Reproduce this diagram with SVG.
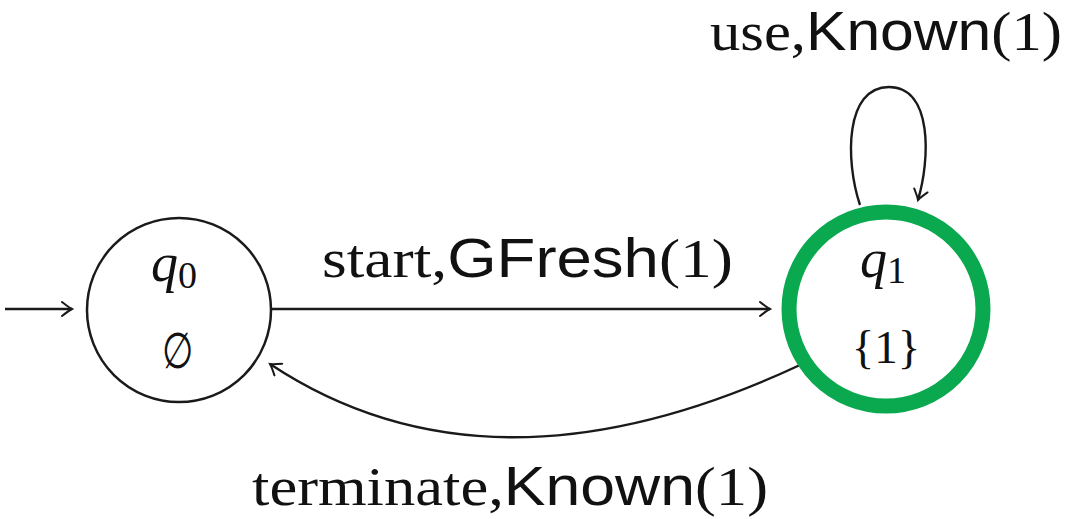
<svg xmlns="http://www.w3.org/2000/svg" width="1065" height="519" viewBox="0 0 1065 519">
  <style>
    .edge { fill: none; stroke: #1a1a1a; stroke-width: 2.4; marker-end: url(#to); }
    .state { fill: #ffffff; stroke: #1a1a1a; stroke-width: 2.5; }
    .accept { fill: #ffffff; stroke: #0aa84f; stroke-width: 15; }
    .lbl { font-size: 55px; fill: #111; }
    .rm { font-family: "Liberation Serif", "DejaVu Serif", serif; }
    .sf { font-family: "Liberation Sans", "DejaVu Sans", sans-serif; }
    .it { font-family: "Liberation Serif", "DejaVu Serif", serif; font-style: italic; fill: #111; }
    .sub { font-family: "Liberation Serif", "DejaVu Serif", serif; font-style: normal; fill: #111; }
  </style>
  <defs>
    <marker id="to" markerWidth="16" markerHeight="16" refX="0" refY="0" viewBox="-12 -8 14 16" orient="auto" markerUnits="userSpaceOnUse">
      <path d="M -10 -7 Q -3 -1.5 0 0 Q -3 1.5 -10 7" fill="none" stroke="#1a1a1a" stroke-width="2" stroke-linecap="round"/>
    </marker>
  </defs>

  <rect width="1065" height="519" fill="#ffffff"/>

  <g id="connectors">
    <path class="edge" d="M 5 309 L 72 309"/>
    <path class="edge" d="M 272 309 L 770 309"/>
    <path class="edge" d="M 860 205 C 845 160, 845 87, 889 87 C 933 87, 930 160, 918 200"/>
    <path class="edge" d="M 800 365 Q 490 510 270 364"/>
  </g>

  <g id="q0">
    <circle class="state" cx="179" cy="310" r="92"/>
    <text x="151" y="281" class="it" font-size="54">q<tspan class="sub" font-size="38" dy="7">0</tspan></text>
    <text class="sub" font-size="50" text-anchor="middle" transform="translate(178 368) scale(0.72 1)">∅</text>
  </g>

  <g id="q1">
    <circle class="accept" cx="886" cy="309" r="97"/>
    <text x="860" y="277" class="it" font-size="54">q<tspan class="sub" font-size="38" dy="6">1</tspan></text>
    <text x="886" y="363" class="sub" font-size="47" text-anchor="middle">{1}</text>
  </g>

  <g id="labels">
    <text x="322" y="277" class="lbl" textLength="411" lengthAdjust="spacingAndGlyphs"><tspan class="rm">start,</tspan><tspan class="sf">GFresh</tspan><tspan class="rm">(1)</tspan></text>
    <text x="710" y="50" class="lbl" textLength="352" lengthAdjust="spacingAndGlyphs"><tspan class="rm">use,</tspan><tspan class="sf">Known</tspan><tspan class="rm">(1)</tspan></text>
    <text x="252" y="505" class="lbl" textLength="516" lengthAdjust="spacingAndGlyphs"><tspan class="rm">terminate,</tspan><tspan class="sf">Known</tspan><tspan class="rm">(1)</tspan></text>
  </g>
</svg>
